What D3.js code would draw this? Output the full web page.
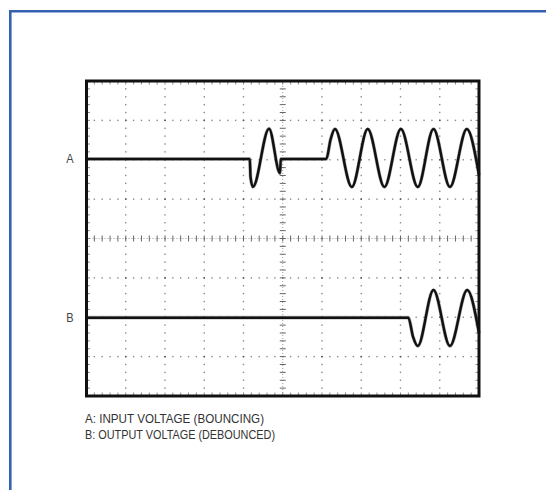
<!DOCTYPE html>
<html>
<head>
<meta charset="utf-8">
<script src="https://cdn.jsdelivr.net/npm/d3@7"></script>
<style>
  html, body { margin: 0; padding: 0; background: #fff; }
  svg { display: block; }
</style>
</head>
<body>
<svg id="chart" width="546" height="490"></svg>
<script>
// Screen grid: 10 horizontal x 8 vertical divisions, 5 minor steps per division
const xDivisions = [0, 1, 2, 3, 4, 5, 6, 7, 8, 9, 10];
const yDivisions = [-4, -3, -2, -1, 0, 1, 2, 3, 4];
const minorPerDivision = 5;

// Trace A: input voltage (bouncing), [time in divisions, level in divisions]
const traceA = [
  [0, 2.02], [4.16, 2.02], [4.18, 1.55], [4.24, 1.31], [4.65, 2.79],
  [4.93, 1.66], [4.95, 2.02], [6.11, 2.02], [6.22, 2.52], [6.33, 2.78],
  [6.76, 1.31], [7.165, 2.78], [7.59, 1.31], [8.01, 2.78], [8.44, 1.31],
  [8.84, 2.78], [9.26, 1.31], [9.69, 2.78], [10.0, 1.61]
];

// Trace B: output voltage (debounced)
const traceB = [
  [0, -2.01], [8.20, -2.01], [8.32, -2.50], [8.44, -2.73], [8.84, -1.31],
  [9.26, -2.73], [9.70, -1.31], [10.0, -2.40]
];

// Channel labels and caption lines
const channelLabels = [["A", 2.02], ["B", -2.01]];
const captionLines = ["A: INPUT VOLTAGE (BOUNCING)", "B: OUTPUT VOLTAGE (DEBOUNCED)"];
const captionWidths = [179, 190];

const svg = d3.select("#chart");

// Outer blue frame (runs off the right and bottom edges)
svg.append("path")
  .attr("d", "M10.3,600 L10.3,11.3 L700,11.3")
  .attr("fill", "none")
  .attr("stroke", "#3461b0")
  .attr("stroke-width", 2.6);

const box = { left: 86.5, right: 479, top: 81, bottom: 396 };
const x = d3.scaleLinear().domain([0, 10]).range([box.left, box.right]);
const y = d3.scaleLinear().domain([-4, 4]).range([box.bottom, box.top]);

const grid = svg.append("g");
const minorX = d3.range(0, 10 * minorPerDivision + 1).map(i => i / minorPerDivision);
const minorY = d3.range(-4 * minorPerDivision, 4 * minorPerDivision + 1).map(i => i / minorPerDivision);

// Dotted major graticule lines
xDivisions.filter(d => d !== 0 && d !== 10 && d !== 5).forEach(d => {
  grid.selectAll(null).data(minorY).enter().append("rect")
    .attr("x", x(d) - 0.7).attr("y", v => y(v) - 0.7)
    .attr("width", 1.4).attr("height", 1.4)
    .attr("fill", v => Number.isInteger(v) ? "#555" : "#8a8a8a");
});
yDivisions.filter(d => d !== -4 && d !== 4 && d !== 0).forEach(d => {
  grid.selectAll(null).data(minorX).enter().append("rect")
    .attr("x", v => x(v) - 0.7).attr("y", y(d) - 0.7)
    .attr("width", 1.4).attr("height", 1.4)
    .attr("fill", v => Number.isInteger(v) ? "#555" : "#8a8a8a");
});

// Centre crosshair with minor ticks
grid.append("line")
  .attr("x1", x(0)).attr("x2", x(10)).attr("y1", y(0)).attr("y2", y(0))
  .attr("stroke", "#9a9a9a").attr("stroke-width", 1).attr("stroke-dasharray", "1,2");
grid.append("line")
  .attr("x1", x(5)).attr("x2", x(5)).attr("y1", y(-4)).attr("y2", y(4))
  .attr("stroke", "#9a9a9a").attr("stroke-width", 1).attr("stroke-dasharray", "1,2");
grid.selectAll(null).data(minorX).enter().append("line")
  .attr("x1", v => x(v)).attr("x2", v => x(v))
  .attr("y1", y(0) - 3).attr("y2", y(0) + 3)
  .attr("stroke", "#666").attr("stroke-width", 1);
grid.selectAll(null).data(minorY).enter().append("line")
  .attr("x1", x(5) - 3).attr("x2", x(5) + 3)
  .attr("y1", v => y(v)).attr("y2", v => y(v))
  .attr("stroke", "#666").attr("stroke-width", 1);

// Minor ticks along the inside of the border
grid.selectAll(null).data(minorX).enter().append("line")
  .attr("x1", v => x(v)).attr("x2", v => x(v))
  .attr("y1", y(4)).attr("y2", y(4) + 3.5)
  .attr("stroke", "#8a8a8a").attr("stroke-width", 1);
grid.selectAll(null).data(minorX).enter().append("line")
  .attr("x1", v => x(v)).attr("x2", v => x(v))
  .attr("y1", y(-4)).attr("y2", y(-4) - 3.5)
  .attr("stroke", "#8a8a8a").attr("stroke-width", 1);
grid.selectAll(null).data(minorY).enter().append("line")
  .attr("x1", x(0)).attr("x2", x(0) + 3.5)
  .attr("y1", v => y(v)).attr("y2", v => y(v))
  .attr("stroke", "#8a8a8a").attr("stroke-width", 1);
grid.selectAll(null).data(minorY).enter().append("line")
  .attr("x1", x(10)).attr("x2", x(10) - 3.5)
  .attr("y1", v => y(v)).attr("y2", v => y(v))
  .attr("stroke", "#8a8a8a").attr("stroke-width", 1);

// Traces
const line = d3.line()
  .x(d => x(d[0]))
  .y(d => y(d[1]))
  .curve(d3.curveMonotoneX);

const traces = svg.append("g");
[traceA, traceB].forEach(t => {
  traces.append("path")
    .attr("d", line(t))
    .attr("fill", "none")
    .attr("stroke", "#666")
    .attr("stroke-width", 3.6)
    .attr("stroke-opacity", 0.5)
    .attr("stroke-linejoin", "round");
  traces.append("path")
    .attr("d", line(t))
    .attr("fill", "none")
    .attr("stroke", "#111")
    .attr("stroke-width", 2.5)
    .attr("stroke-linejoin", "round");
});

// Screen border
svg.append("rect")
  .attr("x", box.left).attr("y", box.top)
  .attr("width", box.right - box.left).attr("height", box.bottom - box.top)
  .attr("fill", "none")
  .attr("stroke", "#111")
  .attr("stroke-width", 3);

const fontStack = "'Liberation Sans Narrow', 'Arial Narrow', 'Liberation Sans', sans-serif";

// Channel labels
svg.selectAll(null).data(channelLabels).enter().append("text")
  .attr("x", 70)
  .attr("y", d => y(d[1]) + 4.5)
  .attr("text-anchor", "middle")
  .attr("font-family", fontStack)
  .attr("font-size", 13)
  .attr("fill", "#444")
  .attr("transform", d => `translate(70,0) scale(0.85,1) translate(-70,0)`)
  .text(d => d[0]);

// Caption, set in a condensed width
svg.selectAll(null).data(captionLines).enter().append("text")
  .attr("x", 85)
  .attr("y", (d, i) => 423 + i * 15.5)
  .attr("font-family", fontStack)
  .attr("font-size", 13)
  .attr("fill", "#333")
  .attr("textLength", (d, i) => captionWidths[i])
  .attr("lengthAdjust", "spacingAndGlyphs")
  .text(d => d);
</script>
</body>
</html>
